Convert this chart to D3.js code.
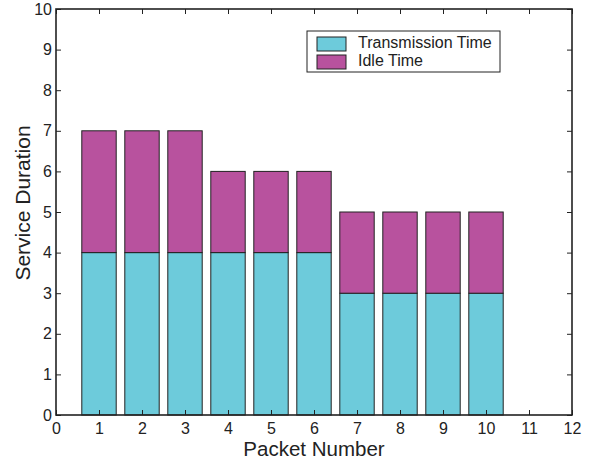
<!DOCTYPE html>
<html>
<head>
<meta charset="utf-8">
<script src="https://cdn.jsdelivr.net/npm/d3@7"></script>
<style>
  html, body { margin: 0; padding: 0; background: #fff; }
  svg { display: block; font-family: "Liberation Sans", Arial, sans-serif; }
</style>
</head>
<body>
<svg id="chart" width="601" height="461"></svg>
<script>
// Packet service durations, split into transmission and idle parts
const packets = [1, 2, 3, 4, 5, 6, 7, 8, 9, 10];
const transmissionTime = [4, 4, 4, 4, 4, 4, 3, 3, 3, 3];
const idleTime = [3, 3, 3, 2, 2, 2, 2, 2, 2, 2];
const xTicks = [0, 1, 2, 3, 4, 5, 6, 7, 8, 9, 10, 11, 12];
const yTicks = [0, 1, 2, 3, 4, 5, 6, 7, 8, 9, 10];
const seriesNames = ["Transmission Time", "Idle Time"];
const seriesColors = ["#6dcbdb", "#b8529e"];

const svg = d3.select("#chart");
const plotLeft = 56, plotRight = 572, plotTop = 9, plotBottom = 415;

const x = d3.scaleLinear().domain([0, 12]).range([plotLeft, plotRight]);
const y = d3.scaleLinear().domain([0, 10]).range([plotBottom, plotTop]);
const barWidth = 0.8;

const rows = packets.map((p, i) => ({ p, tx: transmissionTime[i], idle: idleTime[i] }));
const stacked = d3.stack().keys(["tx", "idle"])(rows);

stacked.forEach((layer, k) => {
  svg.append("g").selectAll("rect")
    .data(layer)
    .join("rect")
    .attr("x", d => x(d.data.p - barWidth / 2))
    .attr("width", d => x(d.data.p + barWidth / 2) - x(d.data.p - barWidth / 2))
    .attr("y", d => y(d[1]))
    .attr("height", d => y(d[0]) - y(d[1]))
    .attr("fill", seriesColors[k])
    .attr("stroke", "#222")
    .attr("stroke-width", 1);
});

// Axes with inward ticks, mirrored on top and right
const tickLen = 5;
const axB = svg.append("g").attr("transform", `translate(0,${plotBottom})`)
  .call(d3.axisBottom(x).tickValues(xTicks).tickSizeInner(-tickLen).tickSizeOuter(0).tickPadding(8));
const axT = svg.append("g").attr("transform", `translate(0,${plotTop})`)
  .call(d3.axisTop(x).tickValues(xTicks).tickSizeInner(-tickLen).tickSizeOuter(0).tickFormat(""));
const axL = svg.append("g").attr("transform", `translate(${plotLeft},0)`)
  .call(d3.axisLeft(y).tickValues(yTicks).tickSizeInner(-tickLen).tickSizeOuter(0).tickPadding(4));
const axR = svg.append("g").attr("transform", `translate(${plotRight},0)`)
  .call(d3.axisRight(y).tickValues(yTicks).tickSizeInner(-tickLen).tickSizeOuter(0).tickFormat(""));

[axB, axT, axL, axR].forEach(a => {
  a.select(".domain").remove();
  a.selectAll(".tick line").attr("stroke", "#222").attr("stroke-width", 1);
  a.selectAll(".tick text").attr("fill", "#222").style("font-size", "16px");
});

svg.append("rect")
  .attr("x", plotLeft).attr("y", plotTop)
  .attr("width", plotRight - plotLeft).attr("height", plotBottom - plotTop)
  .attr("fill", "none").attr("stroke", "#222").attr("stroke-width", 1.6);

// Axis titles
svg.append("text")
  .attr("x", (plotLeft + plotRight) / 2).attr("y", 456)
  .attr("text-anchor", "middle")
  .style("font-size", "20.5px").attr("fill", "#222")
  .text("Packet Number");
svg.append("text")
  .attr("transform", `translate(30,203) rotate(-90)`)
  .attr("text-anchor", "middle")
  .style("font-size", "21px").attr("fill", "#222")
  .text("Service Duration");

// Legend
const lg = svg.append("g");
lg.append("rect")
  .attr("x", 307).attr("y", 31).attr("width", 193).attr("height", 41)
  .attr("fill", "#fff").attr("stroke", "#222").attr("stroke-width", 1);
seriesNames.forEach((name, i) => {
  const yy = 37 + i * 18;
  lg.append("rect")
    .attr("x", 317).attr("y", yy).attr("width", 29).attr("height", 14)
    .attr("fill", seriesColors[i]).attr("stroke", "#222").attr("stroke-width", 1);
  lg.append("text")
    .attr("x", 358).attr("y", yy + 11)
    .style("font-size", "16px").attr("fill", "#222")
    .text(name);
});
</script>
</body>
</html>
